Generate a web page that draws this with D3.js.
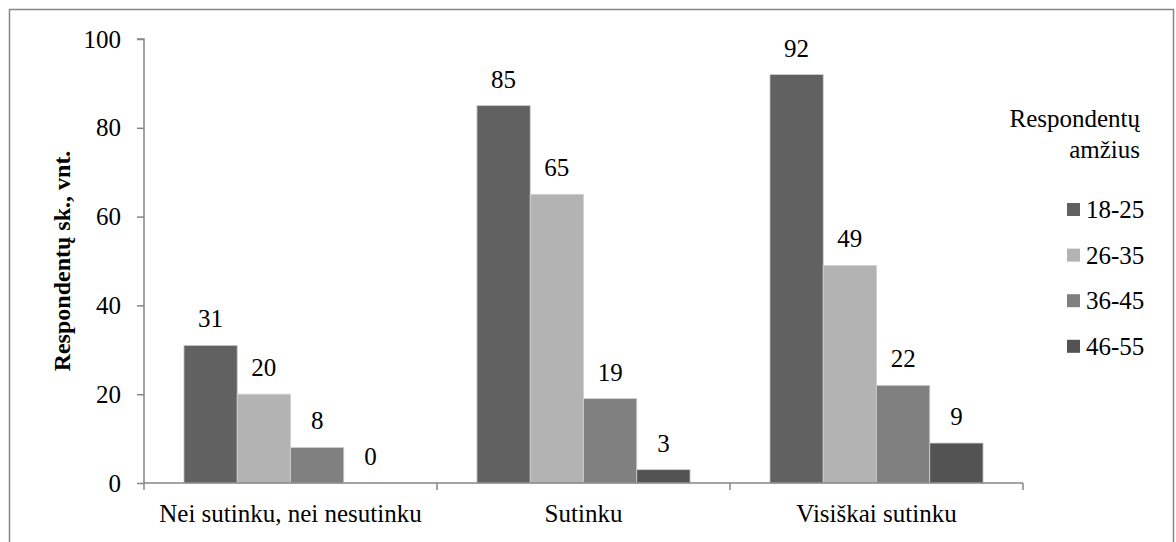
<!DOCTYPE html>
<html>
<head>
<meta charset="utf-8">
<script src="https://cdn.jsdelivr.net/npm/d3@7"></script>
</head>
<body style="margin:0">
<svg id="s" width="1176" height="542"></svg>
<script>
const categories = ["Nei sutinku, nei nesutinku", "Sutinku", "Visiškai sutinku"];
const seriesNames = ["18-25", "26-35", "36-45", "46-55"];
const values_18_25 = [31, 85, 92];
const values_26_35 = [20, 65, 49];
const values_36_45 = [8, 19, 22];
const values_46_55 = [0, 3, 9];
const seriesColors = ["#616161", "#b3b3b3", "#808080", "#535353"];
const yTicks = [0, 20, 40, 60, 80, 100];
const yTitle = "Respondentų sk., vnt.";
const legendTitle = ["Respondentų", "amžius"];

const seriesValues = [values_18_25, values_26_35, values_36_45, values_46_55];
const FONT = "'Liberation Serif', 'Times New Roman', Tinos, serif";

const svg = d3.select("#s");
const axisColor = "#868686";

svg.append("rect")
  .attr("x", 9.5).attr("y", 9.5)
  .attr("width", 1164).attr("height", 560)
  .attr("fill", "none").attr("stroke", axisColor).attr("stroke-width", 1.5);

const x = d3.scaleBand().domain(categories).range([144, 1023]).paddingInner(0).paddingOuter(0);
const y = d3.scaleLinear().domain([0, 100]).range([483, 39]);

const barW = x.bandwidth() / 5.5;
const xs = d3.scaleBand().domain(seriesNames)
  .range([0.75 * barW, 0.75 * barW + 4 * barW]).padding(0);

const groups = svg.append("g").selectAll("g")
  .data(categories).join("g")
  .attr("transform", d => `translate(${x(d)},0)`);

seriesNames.forEach((s, si) => {
  groups.append("rect")
    .attr("x", xs(s))
    .attr("width", xs.bandwidth())
    .attr("y", (d, ci) => y(seriesValues[si][ci]))
    .attr("height", (d, ci) => y(0) - y(seriesValues[si][ci]))
    .attr("fill", seriesColors[si])
    .attr("stroke", (d, ci) => seriesValues[si][ci] > 0 ? "#cfcfcf" : "none")
    .attr("stroke-width", 0.8);
  groups.append("text")
    .attr("x", xs(s) + xs.bandwidth() / 2)
    .attr("y", (d, ci) => y(seriesValues[si][ci]) - 18)
    .attr("text-anchor", "middle")
    .style("font-family", FONT)
    .style("font-size", "25px")
    .text((d, ci) => seriesValues[si][ci]);
});

const yAxis = svg.append("g")
  .attr("transform", "translate(144,0)")
  .call(d3.axisLeft(y).tickValues(yTicks).tickSize(7).tickPadding(16));
yAxis.attr("font-family", null).attr("font-size", null);
yAxis.selectAll("path, line").attr("stroke", axisColor).attr("stroke-width", 1.5);
yAxis.selectAll("text").style("font-size", "25px").style("font-family", FONT);
yAxis.select(".domain").attr("d", `M-7,${y(100)}H0V${y(0)}`);

const xAxis = svg.append("g")
  .attr("transform", `translate(0,${y(0)})`)
  .call(d3.axisBottom(x).tickSize(0).tickPadding(0));
xAxis.attr("font-family", null).attr("font-size", null);
xAxis.select(".domain").attr("d", `M144,0H1023`).attr("stroke", axisColor).attr("stroke-width", 1.5);
xAxis.selectAll(".tick line").remove();
xAxis.selectAll(".tick text")
  .attr("y", 39).attr("dy", null)
  .style("font-size", "25px").style("font-family", FONT);
const boundaries = categories.map(c => x(c)).concat([x(categories[categories.length - 1]) + x.bandwidth()]);
xAxis.selectAll(".bnd").data(boundaries).join("line")
  .attr("class", "bnd")
  .attr("x1", d => d).attr("x2", d => d)
  .attr("y1", 0).attr("y2", 7)
  .attr("stroke", axisColor).attr("stroke-width", 1.5);

svg.append("text")
  .attr("transform", "translate(70,261) rotate(-90)")
  .attr("text-anchor", "middle")
  .style("font-family", FONT)
  .style("font-size", "24px").style("font-weight", "bold")
  .text(yTitle);

const leg = svg.append("g");
leg.selectAll(".lt").data(legendTitle).join("text")
  .attr("class", "lt")
  .attr("x", 1140).attr("y", (d, i) => 127 + i * 31)
  .attr("text-anchor", "end")
  .style("font-family", FONT)
  .style("font-size", "25px")
  .text(d => d);
const items = leg.selectAll(".li").data(seriesNames).join("g")
  .attr("class", "li")
  .attr("transform", (d, i) => `translate(0,${i * 45.6})`);
items.append("rect")
  .attr("x", 1067).attr("y", 203).attr("width", 13).attr("height", 13)
  .attr("fill", (d, i) => seriesColors[i]);
items.append("text")
  .attr("x", 1086).attr("y", 218)
  .style("font-family", FONT)
  .style("font-size", "25px")
  .text(d => d);
</script>
</body>
</html>
